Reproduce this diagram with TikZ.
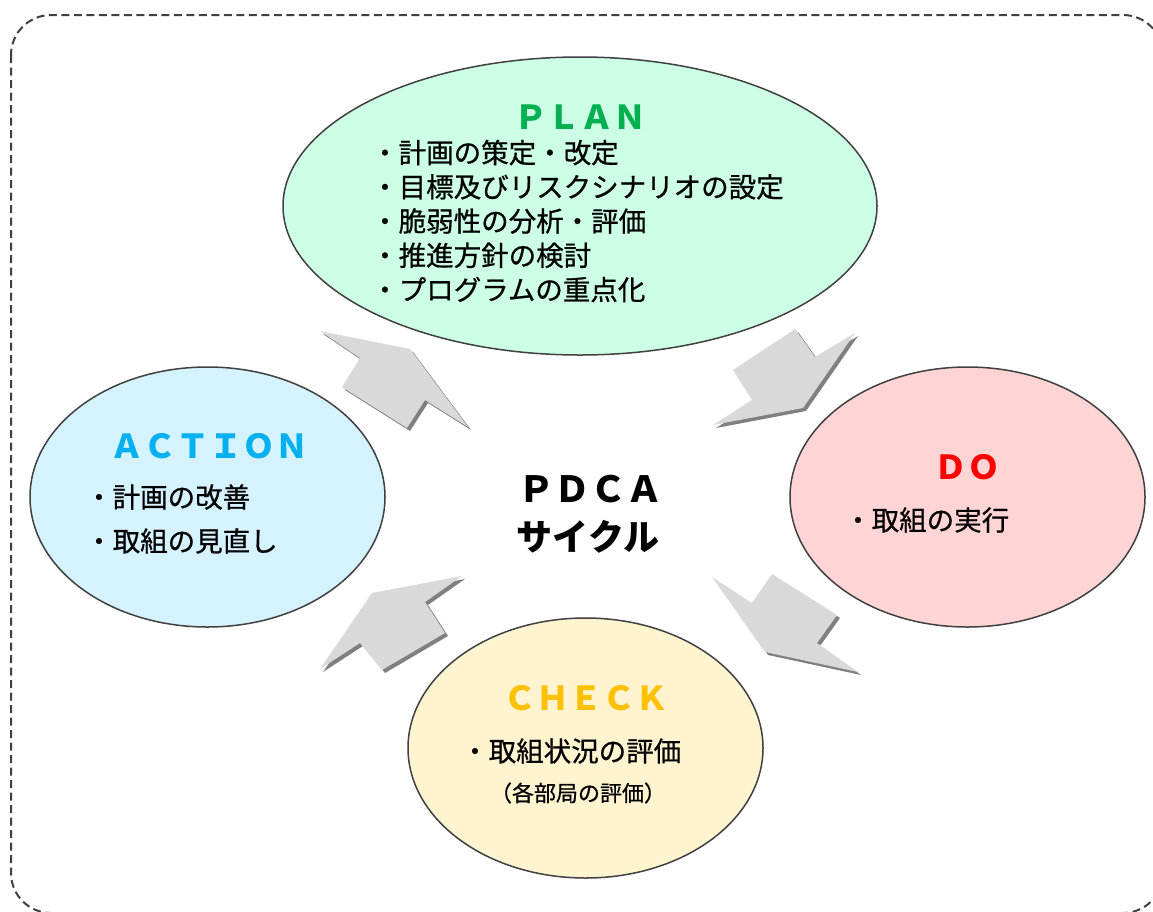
\documentclass[tikz,border=0pt]{standalone}
\usepackage{fontspec}
\setmainfont{Noto Sans CJK JP}
\newfontfamily\itemfont[FakeBold=0.7]{Noto Sans CJK JP}
\usetikzlibrary{shapes.geometric}

\definecolor{planfill}{HTML}{CCFFE5}
\definecolor{actfill}{HTML}{D5F2FF}
\definecolor{dofill}{HTML}{FFD4D4}
\definecolor{checkfill}{HTML}{FFF3D0}
\definecolor{plangreen}{HTML}{00B050}
\definecolor{actblue}{HTML}{00B0F0}
\definecolor{dored}{HTML}{FF0000}
\definecolor{checkgold}{HTML}{FFC000}
\definecolor{arrowgray}{HTML}{D9D9D9}
\definecolor{arrowdark}{HTML}{808080}
\definecolor{rim}{HTML}{404040}

% block arrow with its drop shadow
\newcommand{\cyclearrow}[1]{%
  \fill[arrowdark,shift={(3,3)}] #1;
  \fill[arrowgray] #1;}

\begin{document}
\begin{tikzpicture}[x=1pt,y=-1pt,
    phase/.style={ellipse,draw=rim,line width=1.5pt,inner sep=0pt},
    stagename/.style={inner sep=0pt,font=\fontsize{33}{40}\selectfont\bfseries},
    itemlist/.style={inner sep=0pt,anchor=west,align=left},
    centre/.style={inner sep=0pt,font=\fontsize{36}{44}\selectfont\bfseries}]
  \clip (0,0) rectangle (1153,911);

  % frame
  \draw[rim,line width=2pt,dash pattern=on 8pt off 4.5pt,rounded corners=40pt]
    (11,15) rectangle (1163,913);

  % the four phases
  \node[phase,fill=planfill,minimum width=594pt,minimum height=298pt] (plan) at (580,206) {};
  \node[phase,fill=actfill,minimum width=355pt,minimum height=260pt] (act) at (207.5,497) {};
  \node[phase,fill=dofill,minimum width=355pt,minimum height=260pt] (do) at (967.5,497) {};
  \node[phase,fill=checkfill,minimum width=355pt,minimum height=260pt] (check) at (585.5,748) {};

  \node[stagename,text=plangreen] (plantitle) at (580,117) {ＰＬＡＮ};
  \node[itemlist,font=\itemfont\fontsize{27.5}{34.25}\selectfont] (planitems) at (371,221)
    {・計画の策定・改定\\・目標及びリスクシナリオの設定\\・脆弱性の分析・評価\\・推進方針の検討\\・プログラムの重点化};

  \node[stagename,text=actblue] (acttitle) at (209,446) {ＡＣＴＩＯＮ};
  \node[itemlist,font=\itemfont\fontsize{27.5}{44}\selectfont] (actitems) at (85,519)
    {・計画の改善\\・取組の見直し};

  \node[stagename,text=dored] (dotitle) at (967,467) {ＤＯ};
  \node[itemlist,font=\itemfont\fontsize{27.5}{34}\selectfont] (doitems) at (844,520) {・取組の実行};

  \node[stagename,text=checkgold] (checktitle) at (586,698) {ＣＨＥＣＫ};
  \node[itemlist,font=\itemfont\fontsize{27.5}{34}\selectfont] (checkitems) at (461,751) {・取組状況の評価};
  \node[inner sep=0pt,font=\itemfont\fontsize{22}{26}\selectfont] (checknote) at (578,793) {（各部局の評価）};

  % centre label
  \node[centre] (pdca) at (590,489) {ＰＤＣＡ};
  \node[centre] (cyclejp) at (588,537) {サイクル};

  % arrows round the cycle
  \cyclearrow{(320,331) -- (410,349) -- (468,427) -- (425,400) -- (407,428) -- (342,387) -- (360,358) -- cycle}
  \cyclearrow{(795,329) -- (815,357) -- (855,333) -- (803,408) -- (713,425) -- (752,400) -- (733,370) -- cycle}
  \cyclearrow{(712,577) -- (752,603) -- (772,574) -- (837,615) -- (817,643) -- (858,672) -- (765,652) -- cycle}
  \cyclearrow{(320,669) -- (372,593) -- (462,576) -- (425,602) -- (445,633) -- (382,670) -- (360,643) -- cycle}
\end{tikzpicture}
\end{document}
